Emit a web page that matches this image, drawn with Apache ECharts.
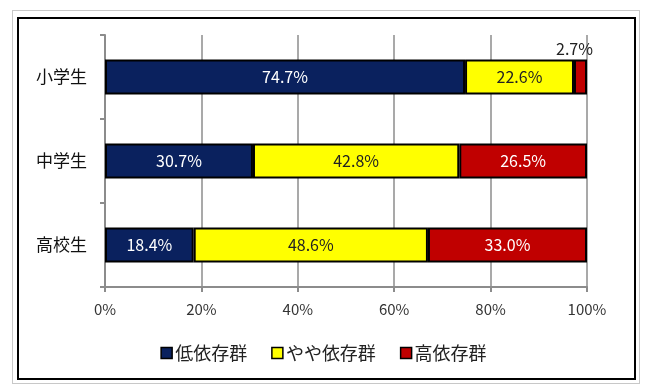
<!DOCTYPE html>
<html><head><meta charset="utf-8">
<script src="https://cdn.jsdelivr.net/npm/echarts@6/dist/echarts.min.js"></script>
<style>
html,body{margin:0;padding:0;background:#fff;}
#frame1{position:absolute;left:12px;top:10px;width:626px;height:372px;border:1px solid #c8c8c8;}
#frame2{position:absolute;left:17px;top:17px;width:615px;height:359px;border:2px solid #000;}
#c{position:absolute;left:0;top:0;width:647px;height:390px;}
</style></head>
<body>
<div id="frame1"></div><div id="frame2"></div>
<div id="c"></div>
<script>
const categories = ['小学生', '中学生', '高校生'];
const seriesNames = ['低依存群', 'やや依存群', '高依存群'];
const low = [74.7, 30.7, 18.4];
const mid = [22.6, 42.8, 48.6];
const high = [2.7, 26.5, 33.0];
const xTicks = [0, 20, 40, 60, 80, 100];

const colors = ['#0a215e', '#ffff00', '#c00000'];
const labelColors = ['#ffffff', '#222222', '#ffffff'];
const font = '"Noto Sans CJK JP", "Noto Sans", sans-serif';

function mk(name, data, i) {
  return {
    name: name, type: 'bar', stack: 'a', barWidth: 35,
    itemStyle: { color: colors[i], borderColor: '#000', borderWidth: 2 },
    label: { show: true, position: 'inside', color: labelColors[i], fontSize: 16, fontFamily: font,
      formatter: p => p.value.toFixed(1) + '%' },
    data: data.map((v, k) => {
      if (i === 2 && v < 5) {
        return { value: v, label: { position: 'top', color: '#222', offset: [-6, 2] } };
      }
      return v;
    })
  };
}

const chart = echarts.init(document.getElementById('c'));
chart.setOption({
  animation: false,
  grid: { left: 105, right: 60, top: 35, bottom: 103, containLabel: false },
  legend: {
    top: 339, left: 'center', itemWidth: 11, itemHeight: 11, itemGap: 24,
    icon: 'rect',
    itemStyle: { borderColor: '#000', borderWidth: 1.5 },
    textStyle: { fontSize: 18, fontFamily: font, color: '#222', padding: [0, 0, 0, -2] },
    data: seriesNames
  },
  xAxis: {
    type: 'value', min: 0, max: 100, interval: 20,
    axisLine: { show: true, lineStyle: { color: '#8c8c8c', width: 2 } },
    axisTick: { show: true, length: 5, lineStyle: { color: '#8c8c8c', width: 2 } },
    splitLine: { show: true, lineStyle: { color: '#8c8c8c', width: 1.5 } },
    axisLabel: { fontSize: 15, fontFamily: font, color: '#333', margin: 15,
      formatter: v => xTicks.includes(v) ? v + '%' : '' }
  },
  yAxis: {
    type: 'category', data: categories, inverse: true,
    axisLine: { show: true, lineStyle: { color: '#8c8c8c', width: 2 } },
    axisTick: { show: true, length: 5, lineStyle: { color: '#8c8c8c', width: 2 } },
    axisLabel: { fontSize: 17, fontFamily: font, color: '#111', margin: 18 }
  },
  series: [mk(seriesNames[0], low, 0), mk(seriesNames[1], mid, 1), mk(seriesNames[2], high, 2)]
});
</script>
</body></html>
